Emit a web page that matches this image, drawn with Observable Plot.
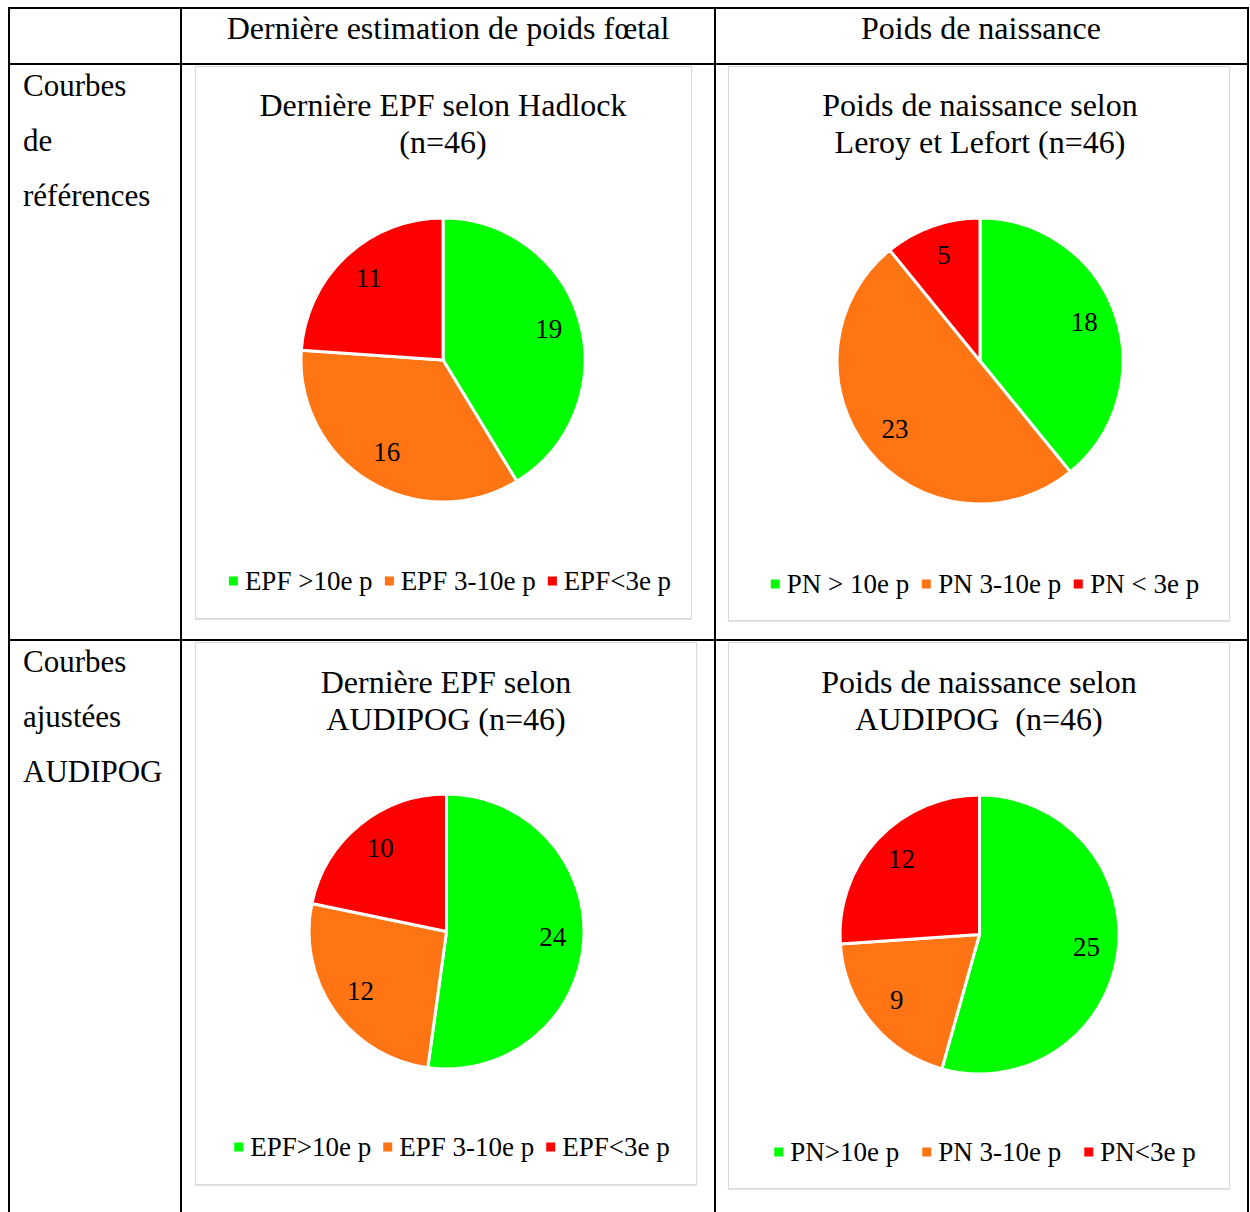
<!DOCTYPE html>
<html>
<head>
<meta charset="utf-8">
<script src="https://cdn.jsdelivr.net/npm/d3@7"></script>
<script src="https://cdn.jsdelivr.net/npm/@observablehq/plot@0.6"></script>
<style>
  html, body { margin: 0; padding: 0; background: #fff; }
  body { width: 1250px; height: 1212px; position: relative; overflow: hidden; font-family: "Liberation Serif", "Times New Roman", serif; color: #000; }
  .line { position: absolute; background: #000; }
  .box { position: absolute; border: 1px solid #d9d9d9; box-shadow: 0 1px 1px #e4e4e4; background: #fff; }
  .txt { position: absolute; white-space: pre; line-height: 1; }
  .ctr { transform: translate(-50%, -50%); text-align: center; }
  .lft { transform: translate(0, -50%); }
  .legend { position: absolute; transform: translate(-50%, -50%); white-space: pre; display: flex; align-items: center; font-size: 27px; line-height: 1; }
  .legend .sw { display: inline-block; width: 9px; height: 9px; margin-right: 7px; }
  .legend .it { display: flex; align-items: center; }
  .plotwrap { position: absolute; }
</style>
</head>
<body>
<script>
// ---- Data ----
const categories = [">10e p", "3-10e p", "<3e p"];
const colors = ["#00ff00", "#ff7514", "#ff0000"];

const epfHadlock = [19, 16, 11];
const pnLeroyLefort = [18, 23, 5];
const epfAudipog = [24, 12, 10];
const pnAudipog = [25, 9, 12];

const legendEpfHadlock = ["EPF >10e p", "EPF 3-10e p", "EPF<3e p"];
const legendPnLeroy = ["PN > 10e p", "PN 3-10e p", "PN < 3e p"];
const legendEpfAudipog = ["EPF>10e p", "EPF 3-10e p", "EPF<3e p"];
const legendPnAudipog = ["PN>10e p", "PN 3-10e p", "PN<3e p"];

const titleEpfHadlock = ["Dernière EPF selon Hadlock", "(n=46)"];
const titlePnLeroy = ["Poids de naissance selon", "Leroy et Lefort (n=46)"];
const titleEpfAudipog = ["Dernière EPF selon", "AUDIPOG (n=46)"];
const titlePnAudipog = ["Poids de naissance selon", "AUDIPOG  (n=46)"];

const columnHeaders = ["Dernière estimation de poids fœtal", "Poids de naissance"];
const rowHeaders = [["Courbes", "de", "références"], ["Courbes", "ajustées", "AUDIPOG"]];

// ---- Layout ----
const body = document.body;
function el(cls, style, text) {
  const d = document.createElement("div");
  d.className = cls;
  Object.assign(d.style, style);
  if (text != null) d.textContent = text;
  body.appendChild(d);
  return d;
}

// table lines
el("line", {left: "8px", top: "7px", width: "1241px", height: "2px"});
el("line", {left: "8px", top: "63px", width: "1241px", height: "2px"});
el("line", {left: "8px", top: "639px", width: "1241px", height: "2px"});
el("line", {left: "8px", top: "7px", width: "2px", height: "1210px"});
el("line", {left: "180px", top: "7px", width: "2px", height: "1210px"});
el("line", {left: "714px", top: "7px", width: "2px", height: "1210px"});
el("line", {left: "1247px", top: "7px", width: "2px", height: "1210px"});

// headers
el("txt ctr", {left: "448px", top: "28px", fontSize: "32px"}, columnHeaders[0]);
el("txt ctr", {left: "981px", top: "28px", fontSize: "32px"}, columnHeaders[1]);
const rowTops = [85, 661];
rowHeaders.forEach((lines, i) => {
  lines.forEach((t, j) => el("txt lft", {left: "23px", top: (rowTops[i] + j * 55) + "px", fontSize: "31px"}, t));
});

// chart definitions
const charts = [
  {box: [195, 66, 497, 553], title: titleEpfHadlock, titleY: 105, cx: 443, cy: 360, r: 142, values: epfHadlock, legend: legendEpfHadlock, legendX: 450, legendY: 581, gap: 12},
  {box: [728, 66, 502, 555], title: titlePnLeroy, titleY: 105, cx: 980, cy: 361, r: 143, values: pnLeroyLefort, legend: legendPnLeroy, legendX: 985, legendY: 584, gap: 13},
  {box: [195, 642, 502, 543], title: titleEpfAudipog, titleY: 682, cx: 446, cy: 931, r: 137.5, values: epfAudipog, legend: legendEpfAudipog, legendX: 452, legendY: 1147, gap: 12},
  {box: [728, 642, 502, 547], title: titlePnAudipog, titleY: 682, cx: 979, cy: 934, r: 139.5, values: pnAudipog, legend: legendPnAudipog, legendX: 985, legendY: 1152, gap: 23}
];

function pieChart(values, r) {
  const rows = categories.map((c, i) => ({cat: c, value: values[i]}));
  const arcs = d3.pie().sort(null).value(d => d.value)(rows);
  const labelR = 0.77;
  const labels = arcs.map(a => {
    const mid = (a.startAngle + a.endAngle) / 2;
    return {x: labelR * Math.sin(mid), y: labelR * Math.cos(mid), text: String(a.data.value)};
  });
  const pad = 4;
  const slices = (index, scales) => {
    const cx = scales.x(0), cy = scales.y(0), rad = scales.x(1) - scales.x(0);
    const col = scales.color ?? d3.scaleOrdinal(categories, colors);
    const arc = d3.arc().innerRadius(0).outerRadius(rad);
    const g = d3.create("svg:g").attr("transform", `translate(${cx},${cy})`);
    g.selectAll("path").data(arcs).join("path")
      .attr("d", arc)
      .attr("fill", d => col(d.data.cat))
      .attr("stroke", "#fff")
      .attr("stroke-width", 3)
      .attr("stroke-linejoin", "round");
    return g.node();
  };
  return Plot.plot({
    width: 2 * r + 2 * pad,
    height: 2 * r + 2 * pad,
    margin: pad,
    x: {domain: [-1, 1], axis: null},
    y: {domain: [-1, 1], axis: null},
    color: {domain: categories, range: colors},
    style: {background: "transparent", overflow: "visible"},
    marks: [
      slices,
      Plot.text(labels, {x: "x", y: "y", text: "text", fontSize: 27, fill: "#000", fontFamily: "Liberation Serif", dy: -2})
    ]
  });
}

charts.forEach(ch => {
  const [bx, by, bw, bh] = ch.box;
  el("box", {left: bx + "px", top: by + "px", width: (bw - 2) + "px", height: (bh - 2) + "px"});
  ch.title.forEach((t, j) => el("txt ctr", {left: ch.cx + "px", top: (ch.titleY + j * 37) + "px", fontSize: "32px"}, t));
  const wrap = el("plotwrap", {left: (ch.cx - ch.r - 4) + "px", top: (ch.cy - ch.r - 4) + "px"});
  wrap.appendChild(pieChart(ch.values, ch.r));
  const lg = el("legend", {left: ch.legendX + "px", top: ch.legendY + "px"});
  ch.legend.forEach((t, i) => {
    const it = document.createElement("div");
    it.className = "it";
    if (i < ch.legend.length - 1) it.style.marginRight = ch.gap + "px";
    const sw = document.createElement("span");
    sw.className = "sw";
    sw.style.background = colors[i];
    const lb = document.createElement("span");
    lb.textContent = t;
    it.appendChild(sw); it.appendChild(lb);
    lg.appendChild(it);
  });
});
</script>
</body>
</html>
